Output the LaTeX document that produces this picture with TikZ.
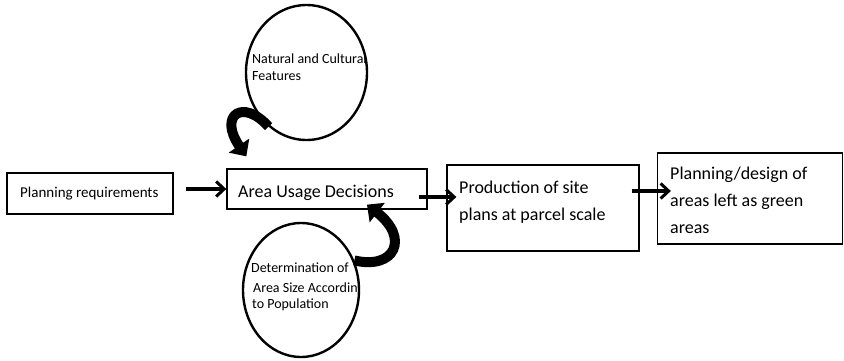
\documentclass[tikz,border=0pt]{standalone}
\usepackage{fontspec}
\setmainfont{Carlito}
\usetikzlibrary{arrows.meta,shapes.geometric}
\begin{document}
\begin{tikzpicture}[x=1pt,y=-1pt,
  box/.style={draw,line width=1.3pt,rectangle,inner sep=0pt},
  circ/.style={draw,line width=2.4pt,ellipse,inner sep=0pt},
  txt/.style={anchor=base west,inner sep=0pt},
  big/.style={font=\fontsize{18}{22}\selectfont},
  mid/.style={font=\fontsize{15}{18}\selectfont},
  small/.style={font=\fontsize{14}{17}\selectfont},
  flow/.style={line width=3.6pt,-{Straight Barb[length=8pt,width=15pt,line width=3pt]}},
  bendarrow/.style={line width=10pt,-{Triangle[length=13pt,width=24pt]}}]
\useasboundingbox (0,0) rectangle (844,360);
% boxes
\node[box,minimum width=166pt,minimum height=41pt] (req) at (90,193.5) {};
\node[box,minimum width=200pt,minimum height=40pt] (aud) at (327,189) {};
\node[box,minimum width=192pt,minimum height=86pt] (site) at (543,208) {};
\node[box,minimum width=185pt,minimum height=91pt] (green) at (750,198.5) {};
% ellipses
\node[circ,minimum width=121pt,minimum height=135pt] (nat) at (306.5,72.5) {};
\node[circ,minimum width=116pt,minimum height=134pt] (pop) at (301,290) {};
% box texts
\node[txt,mid] (reqA) at (20,197) {Planning requirements};
\node[txt,big] (audA) at (238,197) {Area Usage Decisions};
\node[txt,big] (siteA) at (459,193) {Production of site};
\node[txt,big] (siteB) at (459,220) {plans at parcel scale};
\node[txt,big] (greenA) at (670,179) {Planning/design of};
\node[txt,big] (greenB) at (670,206) {areas left as green};
\node[txt,big] (greenC) at (670,233) {areas};
% ellipse texts
\begin{scope}
\clip (306.5,72.5) ellipse [x radius=60pt, y radius=67pt];
\node[txt,small] (natA) at (252,63) {Natural and Cultural};
\node[txt,small] (natB) at (252,80) {Features};
\end{scope}
\begin{scope}
\clip (301,290) ellipse [x radius=57.5pt, y radius=66.5pt];
\node[txt,small] (popA) at (251,272) {Determination of};
\node[txt,small] (popB) at (253,292) {Area Size According};
\node[txt,small] (popC) at (252,308) {to Population};
\end{scope}
% straight connectors
\coordinate (r2s) at ([xshift=12pt]req.east |- aud.west);
\draw[flow] (r2s) -- (aud.west);
\coordinate (a2s) at ([xshift=-9pt,yshift=-8pt]aud.east);
\coordinate (a2e) at ([xshift=10pt]site.west);
\draw[flow] (a2s) -- (a2e |- a2s);
\coordinate (s2s) at ([xshift=-8pt,yshift=17pt]site.east);
\coordinate (s2e) at ([xshift=14pt]green.west);
\draw[flow] (s2s) -- (s2e |- s2s);
% curved arrows
\coordinate (natTip) at ([xshift=20pt,yshift=12pt]aud.north west);
\draw[bendarrow] (nat.-125) .. controls (243,98) and (218,115) .. (natTip);
\coordinate (popTip) at ([xshift=40pt,yshift=5pt]aud.south);
\draw[bendarrow] (pop.29) .. controls (395,270) and (410,238) .. (popTip);
\end{tikzpicture}
\end{document}
